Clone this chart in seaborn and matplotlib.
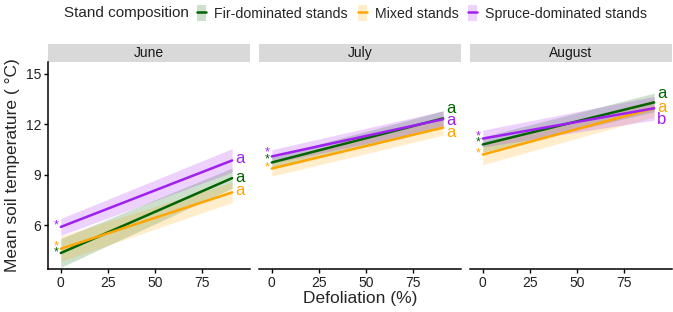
import numpy as np
import pandas as pd
import seaborn as sns
import matplotlib.pyplot as plt
from matplotlib.patches import Rectangle, Patch
from matplotlib.lines import Line2D

# values (fitted line endpoints and CI half widths)
months = ['June', 'July', 'August']
groups = ['Fir-dominated stands', 'Mixed stands', 'Spruce-dominated stands']
defol = [0, 91]

fir_start = [4.35, 9.73, 10.8]
fir_end = [8.8, 12.35, 13.3]
mixed_start = [4.6, 9.37, 10.2]
mixed_end = [7.95, 11.8, 12.95]
spruce_start = [5.9, 10.09, 11.15]
spruce_end = [9.85, 12.3, 12.95]

fir_ci_start = [0.85, 0.35, 0.45]
fir_ci_end = [0.6, 0.45, 0.55]
mixed_ci_start = [0.75, 0.45, 0.6]
mixed_ci_end = [0.6, 0.45, 0.5]
spruce_ci_start = [0.5, 0.4, 0.5]
spruce_ci_end = [0.7, 0.5, 0.7]

# letters at line ends, asterisks at intercepts
fir_letter = ['a', 'a', 'a']
mixed_letter = ['a', 'a', 'a']
spruce_letter = ['a', 'a', 'b']
fir_letter_y = [8.85, 12.95, 13.8]
mixed_letter_y = [8.05, 11.5, 13.0]
spruce_letter_y = [9.95, 12.2, 12.3]
fir_star_y = [4.4, 9.9, 10.9]
mixed_star_y = [4.75, 9.44, 10.27]
spruce_star_y = [6.0, 10.3, 11.3]

palette = {'Fir-dominated stands': '#006400',
           'Mixed stands': '#FFA500',
           'Spruce-dominated stands': '#A020F0'}

starts = {'Fir-dominated stands': fir_start, 'Mixed stands': mixed_start,
          'Spruce-dominated stands': spruce_start}
ends = {'Fir-dominated stands': fir_end, 'Mixed stands': mixed_end,
        'Spruce-dominated stands': spruce_end}
ci_s = {'Fir-dominated stands': fir_ci_start, 'Mixed stands': mixed_ci_start,
        'Spruce-dominated stands': spruce_ci_start}
ci_e = {'Fir-dominated stands': fir_ci_end, 'Mixed stands': mixed_ci_end,
        'Spruce-dominated stands': spruce_ci_end}
letters = {'Fir-dominated stands': (fir_letter, fir_letter_y),
           'Mixed stands': (mixed_letter, mixed_letter_y),
           'Spruce-dominated stands': (spruce_letter, spruce_letter_y)}
stars = {'Fir-dominated stands': fir_star_y, 'Mixed stands': mixed_star_y,
         'Spruce-dominated stands': spruce_star_y}

rows = []
for i, m in enumerate(months):
    for g in groups:
        for j, x in enumerate(defol):
            y = starts[g][i] if j == 0 else ends[g][i]
            ci = ci_s[g][i] if j == 0 else ci_e[g][i]
            rows.append({'Month': m, 'Stand': g, 'Defoliation': x, 'Temp': y,
                         'lo': y - ci, 'hi': y + ci})
df = pd.DataFrame(rows)

sns.set_style('white')
plt.rcParams['font.family'] = ['Liberation Sans', 'DejaVu Sans']

fig = plt.figure(figsize=(6.73, 3.12), dpi=100)
W, H = 673, 312
lefts = [48, 259, 470]
pw = 202
top, bottom = 62, 269

axes = []
for i, m in enumerate(months):
    ax = fig.add_axes([lefts[i] / W, (H - bottom) / H, pw / W, (bottom - top) / H])
    axes.append(ax)
    sub = df[df['Month'] == m]
    for g in groups:
        s = sub[sub['Stand'] == g]
        ax.fill_between(s['Defoliation'], s['lo'], s['hi'], color=palette[g],
                        alpha=0.2, lw=0)
    sns.lineplot(data=sub, x='Defoliation', y='Temp', hue='Stand',
                 palette=palette, ax=ax, lw=1.8, legend=False)
    for g in groups:
        lab, ly = letters[g]
        ax.text(95, ly[i], lab[i], color=palette[g], fontsize=12,
                ha='center', va='center')
        ax.text(-2.2, stars[g][i], '*', color=palette[g], fontsize=9,
                ha='center', va='center')
    ax.set_xlim(-6.8, 100.5)
    ax.set_ylim(3.4, 15.7)
    ax.set_xticks([0, 25, 50, 75])
    ax.set_yticks([6, 9, 12, 15])
    ax.set_xlabel('')
    ax.set_ylabel('')
    for sp in ['top', 'right']:
        ax.spines[sp].set_visible(False)
    ax.spines['bottom'].set_color('black')
    ax.spines['bottom'].set_linewidth(1.1)
    ax.tick_params(axis='both', length=3, width=1, color='black',
                   labelsize=10, labelcolor='#222222', pad=2, direction='out',
                   bottom=True, left=(i == 0))
    if i == 0:
        ax.spines['left'].set_color('black')
        ax.spines['left'].set_linewidth(1.1)
    else:
        ax.spines['left'].set_visible(False)
        ax.set_yticklabels([])
    # facet strip
    ax.add_patch(Rectangle((0, 1.0), 1, 18 / (bottom - top), transform=ax.transAxes,
                           facecolor='#D9D9D9', edgecolor='none', clip_on=False))
    ax.text(0.5, 1.0 + 9 / (bottom - top), m, transform=ax.transAxes,
            ha='center', va='center', fontsize=10, color='#1a1a1a')

axes[0].set_ylabel('Mean soil temperature ( °C)', fontsize=12.5, labelpad=4)
axes[1].set_xlabel('Defoliation (%)', fontsize=12.5, labelpad=1)

# legend along the top
fig.text(64 / W, 1 - 13 / H, 'Stand composition', fontsize=11, va='center',
         ha='left')
handles = [(Patch(facecolor=palette[g], alpha=0.2, lw=0),
            Line2D([], [], color=palette[g], lw=1.8)) for g in groups]
fig.legend(handles, groups, loc='center left', bbox_to_anchor=(197 / W, 1 - 13 / H),
           ncol=3, frameon=False, fontsize=10.2, handlelength=0.65,
           handleheight=1.3, handletextpad=0.55, columnspacing=0.7,
           borderaxespad=0, borderpad=0)

plt.savefig('out.png', dpi=100)
